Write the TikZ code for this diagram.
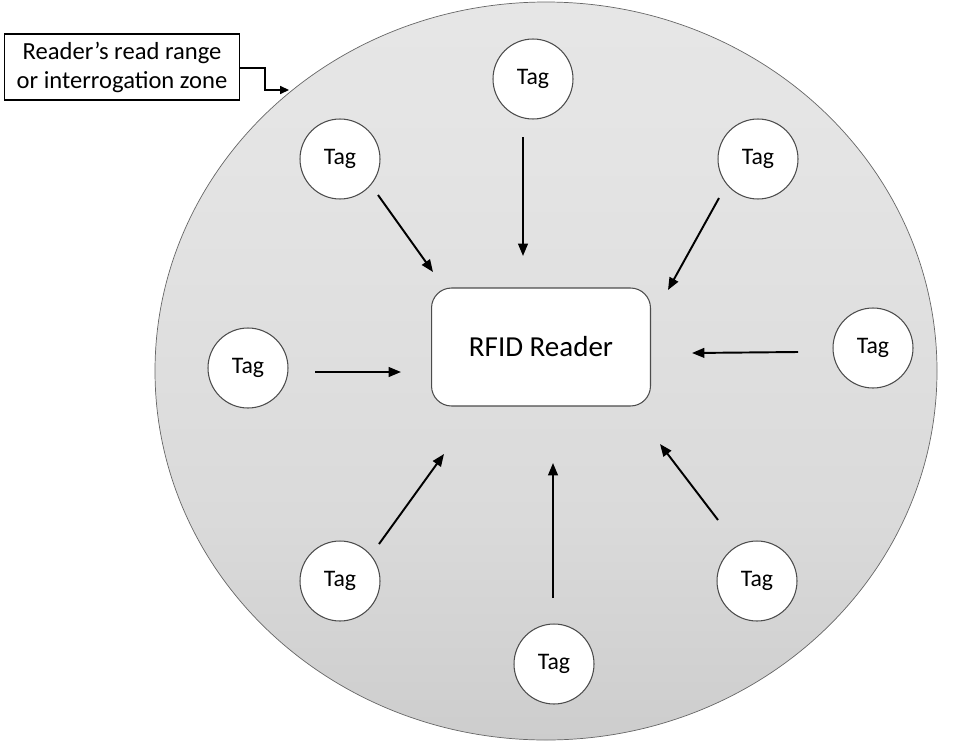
\documentclass[tikz,border=0pt]{standalone}
\usepackage{fontspec}
\setmainfont{Carlito}
\usetikzlibrary{arrows.meta}
\pgfdeclareverticalshading{zoneshade}{100bp}{%
  color(0bp)=(black!28); color(40bp)=(black!14.5); color(65bp)=(black!10.5); color(100bp)=(black!8)}
\begin{document}
\begin{tikzpicture}[x=0.02cm,y=-0.02cm,
  tag/.style={circle,draw=black!70,line width=0.6pt,fill=white,minimum size=1.6cm,inner sep=0pt,font=\fontsize{13.5}{16}\selectfont},
  reader/.style={rectangle,rounded corners=0.4cm,draw=black!70,line width=0.6pt,fill=white,minimum width=4.38cm,minimum height=2.36cm,font=\fontsize{16.5}{19}\selectfont},
  note/.style={rectangle,draw,line width=0.9pt,fill=white,align=center,inner sep=2pt,minimum width=4.7cm,minimum height=1.32cm,font=\fontsize{14}{16.5}\selectfont},
  arr/.style={-{Triangle[length=7pt,width=5.5pt]},line width=1.1pt}]
  \useasboundingbox (0,0) rectangle (953,744);
  % read range
  \draw[black!60,shading=zoneshade] (546,371) ellipse [x radius=391,y radius=369];
  \node[reader] (reader) at (541,347) {RFID Reader};
  \node[note] (zone) at (122,67) {Reader’s read range\\or interrogation zone};
  \coordinate (zoneedge) at (289,90);
  \draw[-{Triangle[length=5pt,width=4.5pt]},line width=0.8pt] (zone.east |- 0,68) -| (265,90) -- (zoneedge);
  % tags and their arrows
  \foreach \n/\x/\y/\ax/\ay/\bx/\by in {
      1/533/79/523/137/523/256,
      2/340/159/378/195/433/272,
      3/758/159/719/198/668/290,
      4/248/368/315/372/401/372,
      5/873/348/798/352/692/353,
      6/340/581/379/544/444/454,
      7/554/664/553/598/553/463,
      8/757/581/718/520/660/444} {
    \node[tag] (tag\n) at (\x,\y) {Tag};
    \coordinate (from\n) at (\ax,\ay);
    \coordinate (to\n) at (\bx,\by);
    \draw[arr] (from\n) -- (to\n);
  }
\end{tikzpicture}
\end{document}
